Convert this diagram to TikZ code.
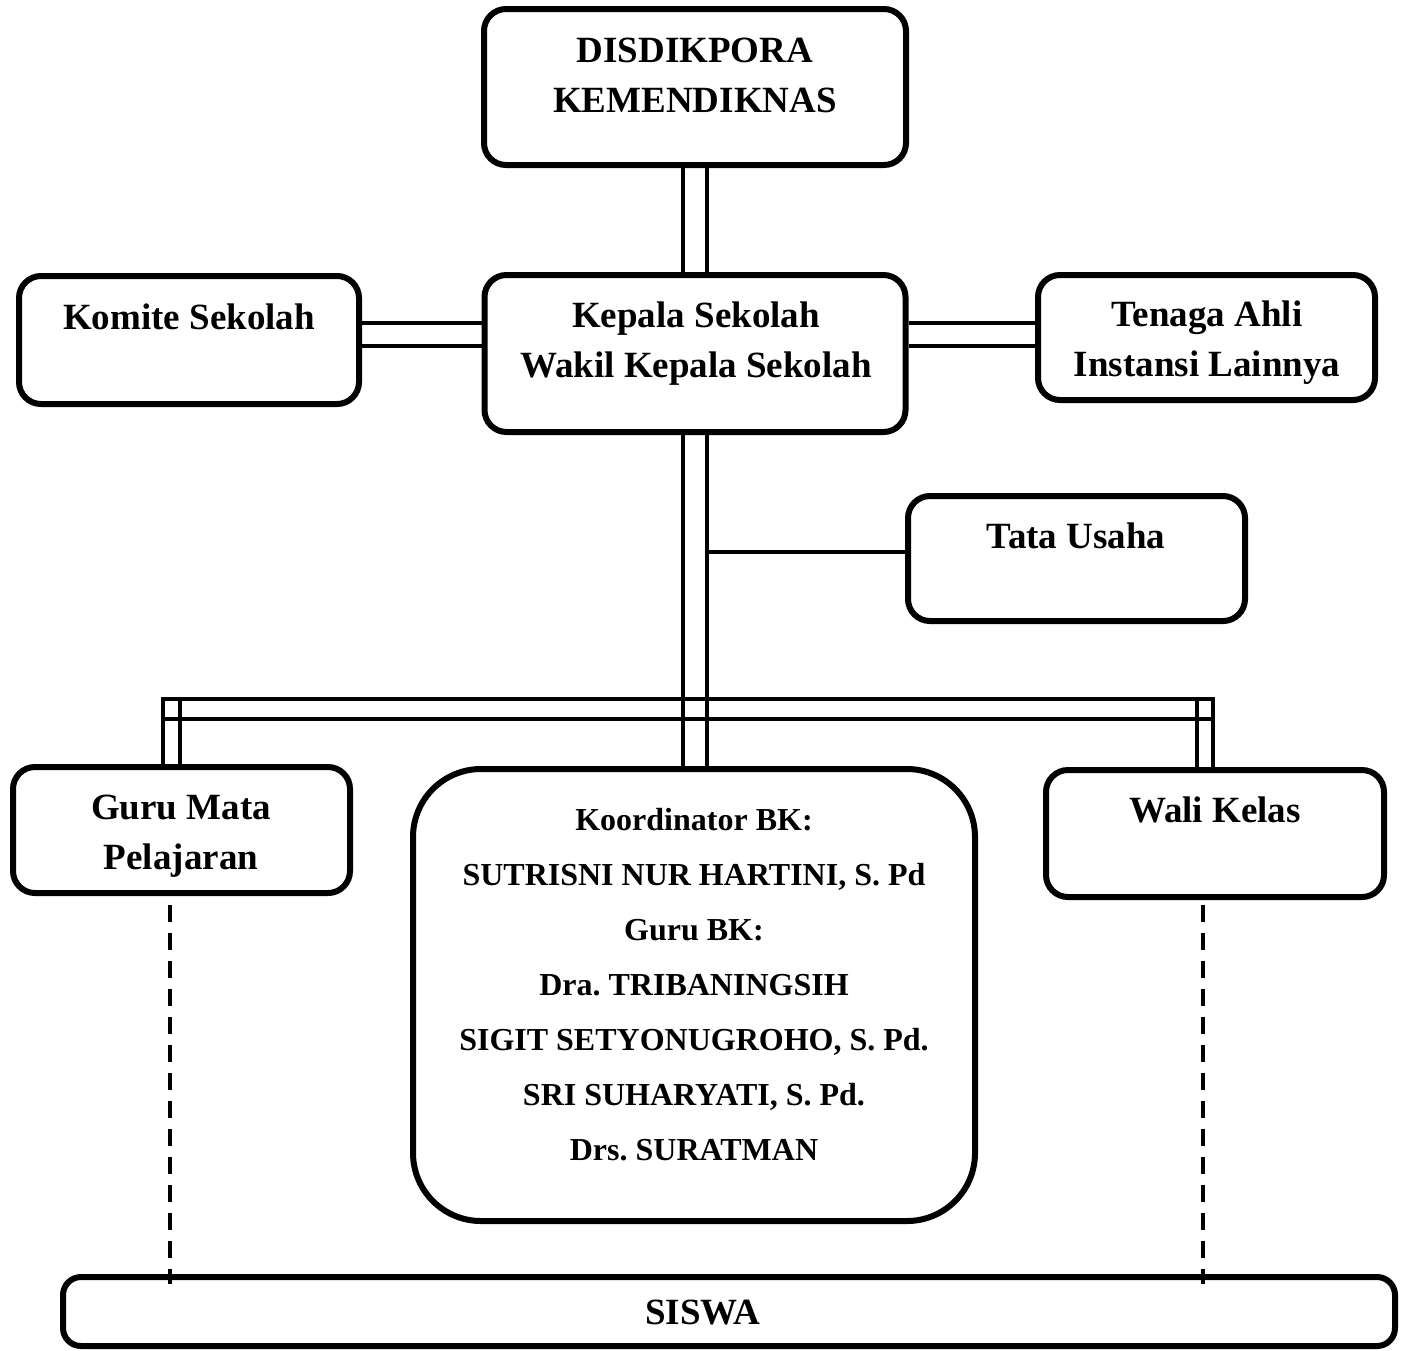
\documentclass[tikz,border=0pt]{standalone}
\usepackage{fontspec}
\setmainfont{Liberation Serif}
\frenchspacing
\begin{document}
\begin{tikzpicture}[x=0.5pt,y=-0.5pt,
  box/.style={draw, line width=3pt, rounded corners=11pt, inner sep=0pt},
  lbl/.style={inner sep=0pt, align=center, font=\frenchspacing\bfseries\fontsize{18.5}{25}\selectfont},
  small/.style={inner sep=0pt, align=center, font=\frenchspacing\bfseries\fontsize{16}{27.5}\selectfont},
  conn/.style={line width=2pt},
  dashline/.style={line width=2pt, dash pattern=on 8.5pt off 5.5pt}]
\useasboundingbox (0,0) rectangle (1407,1350);

% boxes
\node[box, minimum width=211pt, minimum height=78pt] (dis) at (695,87) {};
\node[box, minimum width=210.5pt, minimum height=78.5pt] (kep) at (695,353.5) {};
\node[box, minimum width=170pt, minimum height=64pt] (kom) at (189,340) {};
\node[box, minimum width=168.5pt, minimum height=62.5pt] (ten) at (1206.5,337.5) {};
\node[box, minimum width=168.5pt, minimum height=62.5pt] (tata) at (1076.5,558.5) {};
\node[box, minimum width=168.5pt, minimum height=63pt] (guru) at (181.5,830) {};
\node[box, rounded corners=34pt, minimum width=281pt, minimum height=226pt] (bk) at (694,995) {};
\node[box, minimum width=169pt, minimum height=63.5pt] (wali) at (1215,833.5) {};
\node[box, rounded corners=9pt, minimum width=666pt, minimum height=34.5pt] (siswa) at (729,1311.5) {};

% texts
\node[lbl] (tdis) at (695,75) {DISDIKPORA\\KEMENDIKNAS};
\node[lbl] (tkep) at (696,344) {Kepala Sekolah\\Wakil Kepala Sekolah};
\node[lbl] (tkom) at (189,317) {Komite Sekolah};
\node[lbl] (tten) at (1207,343) {Tenaga Ahli\\Instansi Lainnya};
\node[lbl] (ttata) at (1076,536) {Tata Usaha};
\node[lbl] (tguru) at (181,836) {Guru Mata\\Pelajaran};
\node[lbl] (twali) at (1215,810) {Wali Kelas};
\node[small] (tbk) at (694,985) {Koordinator BK:\\SUTRISNI NUR HARTINI, S. Pd\\Guru BK:\\Dra. TRIBANINGSIH\\SIGIT SETYONUGROHO, S. Pd.\\SRI SUHARYATI, S. Pd.\\Drs. SURATMAN};
\node[lbl] (tsis) at (703,1313) {SISWA};

% helper coordinates
\coordinate (hA) at (0,323);
\coordinate (hB) at (0,346);
\coordinate (tY) at (0,552);
\coordinate (bl1) at (163,699);
\coordinate (bl2) at (180,699);
\coordinate (br1) at (1197,699);
\coordinate (br2) at (1213,699);
\coordinate (bB) at (0,719);
\coordinate (dL) at (170,905);
\coordinate (dR) at (1203,905);

% connectors
\draw[conn] ([xshift=-6pt]dis.south) -- ([xshift=-6pt]kep.north);
\draw[conn] ([xshift=6pt]dis.south) -- ([xshift=6pt]kep.north);
\draw[conn] (kom.east |- hA) -- (kep.west |- hA);
\draw[conn] (kom.east |- hB) -- (kep.west |- hB);
\draw[conn] (kep.east |- hA) -- (ten.west |- hA);
\draw[conn] (kep.east |- hB) -- (ten.west |- hB);
\draw[conn] ([xshift=-6pt]kep.south) -- ([xshift=-6pt]kep.south |- bk.north);
\draw[conn] ([xshift=6pt]kep.south) -- ([xshift=6pt]kep.south |- bk.north);
\draw[conn] ([xshift=6pt]kep.south |- tY) -- (tata.west |- tY);
\draw[conn] (bl1 |- guru.north) -- (bl1) -- (br2) -- (br2 |- wali.north);
\draw[conn] (bl1 |- bB) -- (br2 |- bB);
\draw[conn] (bl2) -- (bl2 |- guru.north);
\draw[conn] (br1) -- (br1 |- wali.north);
\draw[dashline] (dL) -- ([yshift=-5pt]dL |- siswa.north);
\draw[dashline] (dR) -- ([yshift=-5pt]dR |- siswa.north);
\end{tikzpicture}
\end{document}
